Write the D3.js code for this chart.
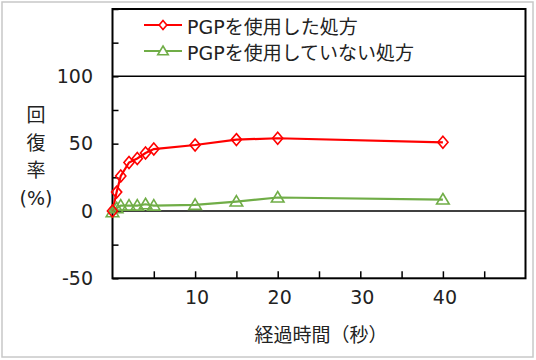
<!DOCTYPE html>
<html><head><meta charset="utf-8">
<script src="https://cdn.jsdelivr.net/npm/d3@7"></script>
<style>
body{margin:0;background:#fff;}
svg{display:block;font-family:"DejaVu Sans","Noto Sans CJK JP",sans-serif;}
</style></head>
<body><svg id="c" width="536" height="360"></svg>
<script>
const times = [0, 0.5, 1, 2, 3, 4, 5, 10, 15, 20, 40];
const withPGP = [0, 14, 26, 36, 39, 43, 46, 49, 53, 54, 51];
const withoutPGP = [-1, 2, 4, 4, 4, 5, 4, 4.5, 7, 10, 8.5];
const seriesNames = ["PGPを使用した処方", "PGPを使用していない処方"];
const yTickLabels = [-50, 0, 50, 100];
const xTickLabels = [10, 20, 30, 40];
const yLabelChars = ["回", "復", "率", "(%)"];
const xTitle = "経過時間（秒）";

const svg = d3.select("#c");
const L = 112.5, R = 525.5, T = 9, B = 278.3;
const x = d3.scaleLinear().domain([0, 50]).range([L, R]);
const y = d3.scaleLinear().domain([-50, 150]).range([B, T]);

// outer frame
svg.append("rect").attr("x", 2).attr("y", 2).attr("width", 531).attr("height", 355)
  .attr("fill", "#fff").attr("stroke", "#c8c8c8").attr("stroke-width", 1.5);

// ticks (inward)
const yAxis = d3.axisRight(y).tickValues(d3.range(-50, 151, 25)).tickSize(6).tickFormat("");
svg.append("g").attr("transform", `translate(${L},0)`).call(yAxis)
  .call(g => g.select(".domain").remove())
  .call(g => g.selectAll("line").attr("stroke", "#000").attr("stroke-width", 1.5));
const xAxis = d3.axisTop(x).tickValues(d3.range(5, 50, 5)).tickSize(7).tickFormat("");
svg.append("g").attr("transform", `translate(0,${B})`).call(xAxis)
  .call(g => g.select(".domain").remove())
  .call(g => g.selectAll("line").attr("stroke", "#000").attr("stroke-width", 1.5));

// horizontal lines at 0 and 100
[0, 100].forEach(v => {
  svg.append("line").attr("x1", L).attr("x2", R).attr("y1", y(v)).attr("y2", y(v))
    .attr("stroke", "#000").attr("stroke-width", 1.5);
});

// plot border
svg.append("rect").attr("x", L).attr("y", T).attr("width", R - L).attr("height", B - T)
  .attr("fill", "none").attr("stroke", "#000").attr("stroke-width", 2);

// tick labels
svg.append("g").selectAll("text").data(yTickLabels).join("text")
  .attr("x", 93).attr("y", d => y(d)).attr("dy", "0.36em").attr("text-anchor", "end")
  .attr("font-size", 19).attr("fill", "#222").text(d => d);
svg.append("g").selectAll("text").data(xTickLabels).join("text")
  .attr("x", d => x(d) + 2).attr("y", 297).attr("dy", "0.36em").attr("text-anchor", "middle")
  .attr("font-size", 19).attr("fill", "#222").text(d => d);

// axis titles
const yl = [115, 143, 170, 198];
svg.append("g").selectAll("text").data(yLabelChars).join("text")
  .attr("x", 36).attr("y", (d, i) => yl[i]).attr("dy", "0.36em").attr("text-anchor", "middle")
  .attr("font-size", 19).attr("fill", "#222").text(d => d);
svg.append("text").attr("x", 321).attr("y", 335).attr("dy", "0.36em").attr("text-anchor", "middle")
  .attr("font-size", 19).attr("fill", "#222").text(xTitle);

const red = "#ff0000", green = "#70ad47";
const line = d3.line().x(d => x(d[0])).y(d => y(d[1]));
const redData = times.map((t, i) => [t, withPGP[i]]);
const greenData = times.map((t, i) => [t, withoutPGP[i]]);

svg.append("path").datum(greenData).attr("d", line).attr("fill", "none")
  .attr("stroke", green).attr("stroke-width", 2.2);
svg.append("path").datum(redData).attr("d", line).attr("fill", "none")
  .attr("stroke", red).attr("stroke-width", 2.2);

const diamond = (s) => `M0,${-s}L${s*0.85},0L0,${s}L${-s*0.85},0Z`;
const tri = (s) => `M0,${-s}L${s*1.05},${s*0.75}L${-s*1.05},${s*0.75}Z`;

svg.append("g").selectAll("path").data(greenData).join("path")
  .attr("transform", d => `translate(${x(d[0])},${y(d[1])})`)
  .attr("d", tri(6)).attr("fill", "none").attr("stroke", green).attr("stroke-width", 1.6);
svg.append("g").selectAll("path").data(redData).join("path")
  .attr("transform", d => `translate(${x(d[0])},${y(d[1])})`)
  .attr("d", diamond(6)).attr("fill", "none").attr("stroke", red).attr("stroke-width", 1.6);

// legend
const leg = [{name: seriesNames[0], c: red, m: diamond(4.5), y: 25}, {name: seriesNames[1], c: green, m: tri(5), y: 51}];
const lg = svg.append("g").selectAll("g").data(leg).join("g");
lg.append("line").attr("x1", 144).attr("x2", 182).attr("y1", d => d.y).attr("y2", d => d.y)
  .attr("stroke", d => d.c).attr("stroke-width", 2.2);
lg.append("path").attr("transform", d => `translate(163,${d.y})`).attr("d", d => d.m)
  .attr("fill", "#fff").attr("stroke", d => d.c).attr("stroke-width", 1.6);
lg.append("text").attr("x", 187).attr("y", d => d.y + 2).attr("dy", "0.36em")
  .attr("font-size", 19).attr("fill", "#222").text(d => d.name);
</script></body></html>
